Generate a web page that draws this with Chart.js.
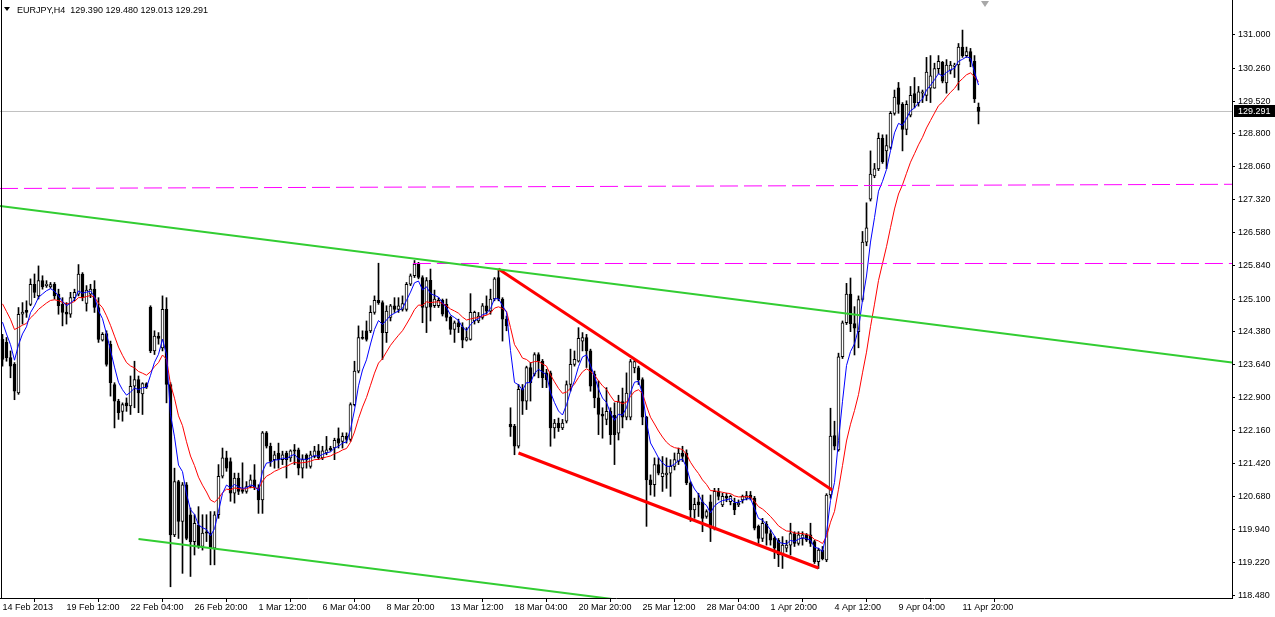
<!DOCTYPE html>
<html>
<head>
<meta charset="utf-8">
<title>EURJPY,H4</title>
<script src="https://cdn.jsdelivr.net/npm/chart.js@4.4.1/dist/chart.umd.min.js"></script>
<style>
  html, body { margin: 0; padding: 0; background: #fff; }
  #wrap { position: relative; width: 1275px; height: 617px; overflow: hidden; background: #fff; }
  #chart { position: absolute; left: 0; top: 0; }
  #hdr { position: absolute; left: 17px; top: 4px; font: 9px 'Liberation Sans', Arial, sans-serif; line-height: 12px; color: #000; white-space: pre; }
  .tri { position: absolute; left: 4px; top: 7px; width: 0; height: 0; border-left: 3px solid transparent; border-right: 3px solid transparent; border-top: 4px solid #000; }
  .shift { position: absolute; left: 981px; top: 1px; width: 0; height: 0; border-left: 4px solid transparent; border-right: 4px solid transparent; border-top: 6px solid #a8a8a8; }
</style>
</head>
<body>
<div id="wrap">
  <canvas id="chart" width="1275" height="617"></canvas>
  <div class="tri"></div>
  <div id="hdr"></div>
  <div class="shift"></div>
</div>
<script>
// ===== DATOS (H4, una vela cada 4 horas) =====
const symbolName = 'EURJPY,H4';

// etiqueta del eje de tiempo cada 16 velas
const timeLabels = ['14 Feb 2013', '19 Feb 12:00', '22 Feb 04:00', '26 Feb 20:00', '1 Mar 12:00', '6 Mar 04:00',
    '8 Mar 20:00', '13 Mar 12:00', '18 Mar 04:00', '20 Mar 20:00', '25 Mar 12:00', '28 Mar 04:00',
    '1 Apr 20:00', '4 Apr 12:00', '9 Apr 04:00', '11 Apr 20:00'];
const timeLabelStep = 16;

const priceTicks = [131.000, 130.260, 129.520, 128.800, 128.060, 127.320, 126.580, 125.840, 125.100,
    124.380, 123.640, 122.900, 122.160, 121.420, 120.680, 119.940, 119.220, 118.480];

const opens = [
    124.20, 124.13, 123.79, 123.64, 123.00, 124.76, 124.85, 124.98, 125.43, 125.17,
    125.51, 125.40, 125.37, 125.43, 125.21, 124.98, 124.81, 124.76, 125.13, 125.21,
    125.66, 125.00, 125.21, 125.32, 124.91, 124.18, 124.33, 124.09, 123.19, 122.82,
    122.59, 122.78, 122.71, 123.15, 123.30, 122.98, 123.21, 124.92, 123.94, 124.27,
    124.01, 124.87, 123.19, 119.83, 121.02, 120.13, 120.95, 120.28, 119.68, 120.05,
    119.57, 119.90, 119.87, 119.53, 120.28, 121.14, 121.55, 121.47, 120.76, 121.10,
    120.84, 120.80, 120.91, 121.06, 120.88, 120.61, 122.11, 121.81, 121.51, 121.66,
    121.51, 121.66, 121.55, 121.73, 121.73, 121.32, 121.61, 121.36, 121.58, 121.71,
    121.55, 121.66, 121.77, 121.77, 121.98, 121.92, 122.03, 121.96, 122.74, 123.49,
    124.24, 124.39, 124.39, 124.80, 125.07, 125.02, 124.35, 124.69, 124.95, 124.87,
    124.87, 124.87, 125.43, 125.62, 125.88, 125.58, 124.91, 125.52, 124.95, 124.95,
    125.07, 124.98, 124.69, 124.42, 124.57, 124.48, 124.18, 124.20, 124.61, 124.61,
    124.69, 124.95, 124.83, 125.10, 125.58, 125.10, 124.65, 122.30, 122.26, 121.81,
    123.08, 122.82, 123.57, 123.42, 123.86, 123.71, 123.45, 123.45, 122.22, 122.33,
    122.22, 122.37, 123.19, 123.64, 123.71, 124.16, 124.24, 123.94, 123.42, 122.89,
    122.53, 122.41, 122.59, 122.50, 122.10, 122.81, 122.46, 122.46, 123.56, 123.56,
    123.30, 122.46, 121.06, 120.95, 121.40, 121.13, 121.17, 121.21, 121.36, 121.47,
    121.66, 121.66, 120.99, 120.39, 120.57, 120.57, 120.24, 120.57, 119.98, 120.80,
    120.50, 120.69, 120.57, 120.54, 120.50, 120.61, 120.65, 120.72, 120.65, 120.02,
    119.75, 120.07, 119.86, 119.75, 119.71, 119.38, 119.53, 119.60, 119.86, 119.64,
    119.75, 119.83, 119.83, 119.68, 119.23, 119.49, 119.27, 120.72, 122.05, 121.73,
    123.81, 124.57, 125.21, 124.55, 124.37, 125.09, 126.37, 127.33, 127.85, 128.01,
    128.69, 128.41, 128.49, 129.25, 129.82, 129.45, 128.89, 129.21, 129.69, 129.49,
    129.70, 129.65, 129.81, 129.81, 130.25, 130.39, 129.93, 130.21, 130.30, 130.33,
    130.73, 130.54, 130.63, 130.41, 129.390
];
const highs = [
    124.31, 124.24, 123.94, 123.68, 124.91, 125.02, 125.06, 125.55, 125.66, 125.84,
    125.62, 125.51, 125.47, 125.47, 125.32, 125.13, 125.02, 125.25, 125.32, 125.87,
    125.69, 125.40, 125.43, 125.51, 125.13, 124.35, 124.39, 124.16, 123.23, 122.86,
    122.78, 122.89, 123.38, 123.71, 123.38, 123.23, 123.23, 124.95, 124.39, 124.35,
    125.17, 125.13, 123.23, 121.32, 121.05, 121.00, 121.00, 120.43, 120.28, 120.46,
    120.28, 120.28, 120.35, 120.35, 121.40, 121.77, 121.70, 121.55, 121.21, 121.21,
    121.44, 121.02, 121.17, 121.40, 120.95, 122.14, 122.14, 121.88, 121.70, 121.88,
    121.70, 121.70, 121.73, 121.85, 121.77, 121.62, 121.64, 121.70, 121.81, 121.85,
    121.81, 122.03, 121.81, 121.99, 122.22, 122.11, 122.11, 122.78, 123.71, 124.50,
    124.39, 124.61, 124.95, 125.17, 125.90, 125.06, 124.95, 124.98, 125.13, 125.13,
    125.17, 125.47, 125.66, 125.96, 125.92, 125.62, 125.58, 125.77, 125.30, 125.13,
    125.10, 125.10, 124.72, 124.61, 124.65, 124.57, 124.46, 125.22, 124.83, 124.80,
    125.00, 125.17, 125.32, 125.58, 125.77, 125.13, 124.72, 122.67, 122.30, 123.19,
    123.19, 123.60, 123.68, 123.90, 123.90, 123.75, 123.53, 123.49, 122.41, 122.44,
    122.41, 123.27, 123.98, 123.94, 124.46, 124.35, 124.31, 123.98, 123.49, 123.27,
    122.67, 123.12, 122.67, 122.78, 122.95, 123.11, 123.45, 123.75, 123.75, 123.60,
    123.34, 122.48, 121.17, 121.55, 121.55, 121.58, 121.55, 121.51, 121.66, 121.77,
    121.81, 121.73, 121.02, 120.65, 120.76, 120.72, 120.39, 120.72, 120.87, 120.87,
    120.76, 120.76, 120.72, 120.65, 120.61, 120.72, 120.80, 120.80, 120.69, 120.05,
    120.20, 120.13, 119.94, 119.79, 119.75, 119.79, 119.71, 120.09, 119.90, 119.90,
    119.90, 119.86, 120.09, 119.71, 119.53, 119.57, 120.75, 122.66, 122.37, 123.89,
    124.61, 125.45, 125.57, 124.93, 125.17, 126.61, 127.25, 128.41, 128.13, 128.81,
    128.77, 128.77, 129.29, 129.77, 129.94, 129.49, 129.53, 129.85, 130.05, 129.85,
    129.77, 130.50, 130.54, 130.37, 130.54, 130.41, 130.45, 130.41, 130.37, 130.81,
    131.11, 130.73, 130.70, 130.54, 129.480
];
const lows = [
    123.60, 123.71, 123.34, 122.85, 122.97, 124.54, 124.69, 124.95, 125.13, 125.10,
    125.32, 125.36, 125.34, 125.10, 124.76, 124.50, 124.54, 124.69, 125.06, 125.17,
    125.06, 124.83, 125.13, 124.80, 124.13, 124.16, 123.60, 122.93, 122.22, 122.41,
    122.37, 122.59, 122.52, 122.67, 122.56, 122.52, 123.10, 123.90, 123.86, 124.09,
    123.94, 122.78, 118.67, 119.79, 119.75, 118.97, 119.72, 118.90, 119.38, 119.53,
    119.49, 119.68, 119.16, 119.16, 120.20, 121.10, 121.25, 120.58, 120.54, 120.73,
    120.76, 120.76, 120.88, 120.84, 120.31, 120.31, 121.77, 121.36, 121.32, 121.32,
    121.40, 121.10, 121.47, 121.40, 121.17, 121.10, 121.32, 121.32, 121.55, 121.51,
    121.51, 121.62, 121.70, 121.51, 121.77, 121.77, 121.88, 121.92, 122.71, 123.45,
    124.20, 124.16, 124.35, 124.76, 124.98, 123.75, 124.13, 124.61, 124.80, 124.80,
    124.83, 124.83, 125.40, 125.58, 125.55, 124.57, 124.35, 124.61, 124.91, 124.91,
    124.72, 124.61, 124.31, 124.13, 124.35, 124.01, 124.16, 124.18, 124.54, 124.57,
    124.65, 124.76, 124.76, 125.06, 125.06, 124.16, 124.39, 122.03, 121.62, 121.77,
    122.52, 122.63, 122.82, 123.38, 123.34, 123.12, 123.12, 121.81, 121.99, 122.14,
    122.18, 122.33, 123.04, 123.60, 123.69, 123.94, 123.57, 123.04, 122.67, 122.07,
    121.99, 122.29, 121.85, 121.40, 121.95, 122.22, 122.40, 122.40, 123.45, 123.19,
    122.29, 120.02, 120.72, 120.69, 121.17, 120.80, 120.87, 120.69, 121.28, 121.40,
    121.47, 120.95, 120.13, 120.20, 120.24, 119.90, 120.20, 119.68, 119.94, 120.61,
    120.46, 120.57, 120.50, 120.28, 120.46, 120.54, 120.61, 120.61, 119.94, 119.64,
    119.68, 119.60, 119.60, 119.30, 119.12, 119.08, 119.45, 119.38, 119.57, 119.60,
    119.60, 119.68, 119.57, 119.19, 119.08, 119.27, 119.23, 120.65, 121.73, 121.70,
    123.77, 124.53, 124.37, 123.85, 124.01, 125.05, 126.29, 127.29, 127.81, 127.97,
    128.13, 128.01, 128.45, 129.21, 129.25, 128.41, 128.77, 129.17, 129.37, 129.41,
    129.49, 129.53, 129.49, 129.81, 130.13, 129.93, 129.70, 130.13, 130.05, 129.77,
    130.50, 130.50, 130.29, 129.49, 129.013
];
const closes = [
    123.75, 123.79, 123.60, 123.04, 124.76, 124.81, 124.80, 125.43, 125.25, 125.51,
    125.37, 125.43, 125.42, 125.17, 124.95, 124.80, 124.76, 125.13, 125.25, 125.66,
    125.13, 125.30, 125.32, 124.91, 124.20, 124.31, 123.64, 123.23, 122.82, 122.56,
    122.74, 122.71, 123.15, 123.30, 123.00, 123.21, 123.13, 123.94, 124.27, 124.22,
    124.87, 123.19, 119.83, 121.02, 120.13, 120.95, 119.75, 119.68, 120.09, 119.57,
    119.87, 119.87, 119.53, 120.28, 121.14, 121.55, 121.32, 120.76, 121.10, 120.80,
    120.80, 120.91, 121.06, 120.88, 120.61, 122.11, 121.81, 121.47, 121.62, 121.51,
    121.62, 121.51, 121.71, 121.70, 121.32, 121.51, 121.51, 121.62, 121.71, 121.55,
    121.71, 121.73, 121.73, 121.94, 121.88, 122.03, 121.96, 122.74, 123.49, 124.24,
    124.22, 124.20, 124.80, 125.07, 125.02, 124.35, 124.83, 124.95, 124.87, 124.95,
    125.00, 125.43, 125.62, 125.88, 125.58, 124.91, 125.51, 124.92, 125.10, 125.07,
    124.76, 124.69, 124.42, 124.57, 124.48, 124.18, 124.24, 124.80, 124.80, 124.72,
    124.95, 124.83, 125.10, 125.55, 125.10, 124.65, 124.50, 122.24, 121.81, 123.08,
    122.82, 123.57, 123.23, 123.86, 123.71, 123.34, 123.30, 122.22, 122.33, 122.22,
    122.33, 123.19, 123.64, 123.75, 124.22, 124.24, 123.94, 123.15, 122.89, 122.52,
    122.48, 122.59, 122.07, 122.07, 122.80, 122.46, 123.00, 123.70, 123.70, 123.30,
    122.46, 121.06, 120.95, 121.40, 121.21, 121.21, 121.21, 121.36, 121.51, 121.66,
    121.58, 120.99, 120.39, 120.51, 120.50, 120.20, 120.35, 119.98, 120.80, 120.69,
    120.69, 120.65, 120.69, 120.39, 120.54, 120.69, 120.71, 120.65, 119.98, 119.75,
    120.09, 119.86, 119.71, 119.53, 119.38, 119.60, 119.60, 119.86, 119.64, 119.83,
    119.83, 119.71, 119.64, 119.23, 119.49, 119.30, 120.72, 122.04, 121.81, 123.81,
    124.57, 125.21, 124.55, 124.45, 125.09, 126.37, 126.69, 127.89, 128.01, 128.69,
    128.17, 128.53, 129.25, 129.61, 129.45, 128.89, 129.45, 129.65, 129.49, 129.73,
    129.73, 130.17, 130.09, 130.25, 130.41, 129.97, 130.33, 130.33, 130.33, 130.73,
    130.54, 130.63, 130.41, 129.57, 129.291
];

// medias móviles del gráfico (EMA 5 azul, EMA 13 roja); valor previo a la primera vela
const maFastPeriod = 5;
const maSlowPeriod = 13;
const maFastSeed = 125.0;
const maSlowSeed = 125.2;

// líneas dibujadas a mano: [índice de vela, precio]
const greenUpper = [[-0.625, 127.179], [307.375, 123.682]];
const greenLower = [[34, 119.737], [154.4, 118.374]];
const redUpper = [[124, 125.771], [207.4, 120.832]];
const redLower = [[129, 121.659], [204, 119.089]];
const magentaUpper = [[-0.625, 127.570], [307.375, 127.664]];
const magentaLower = [[102.6, 125.894], [307.375, 125.894]];

// ===== ESCALAS =====
const X_MIN = -0.625, X_MAX = 307.375;
const Y_MIN = 118.419, Y_MAX = 131.782;
const FONT = "'Liberation Sans', Arial, sans-serif";

function ema(values, period, seed) {
    const k = 2 / (period + 1);
    let prev = seed;
    return values.map(v => (prev = prev + k * (v - prev)));
}

const last = closes.length - 1;
document.getElementById('hdr').textContent =
    `${symbolName}  ${opens[last].toFixed(3)} ${highs[last].toFixed(3)} ${lows[last].toFixed(3)} ${closes[last].toFixed(3)}`;

const wickData = closes.map((_, i) => ({ x: i, y: [lows[i], highs[i]] }));
const bodyData = closes.map((_, i) => ({ x: i, y: [opens[i], closes[i]] }));
const bodyFill = closes.map((c, i) => c >= opens[i] ? '#ffffff' : '#000000');
const fastData = ema(closes, maFastPeriod, maFastSeed).map((v, i) => ({ x: i, y: v }));
const slowData = ema(closes, maSlowPeriod, maSlowSeed).map((v, i) => ({ x: i, y: v }));

function linea(points, color, width, dash, order) {
    return {
        type: 'line',
        data: points.map(p => ({ x: p[0], y: p[1] })),
        borderColor: color,
        borderWidth: width,
        borderDash: dash || [],
        pointRadius: 0,
        fill: false,
        tension: 0,
        order: order
    };
}

// marco izquierdo + etiqueta del precio actual
const marcoPlugin = {
    id: 'marco',
    afterDraw(chart) {
        const { ctx, chartArea, scales } = chart;
        ctx.save();
        ctx.strokeStyle = '#000';
        ctx.lineWidth = 1;
        ctx.beginPath();
        ctx.moveTo(chartArea.left + 1.5, chartArea.top);
        ctx.lineTo(chartArea.left + 1.5, chartArea.bottom);
        ctx.stroke();

        const y = Math.round(scales.y.getPixelForValue(closes[last]));
        ctx.fillStyle = '#000';
        ctx.fillRect(chartArea.right + 2, y - 6, 41, 12);
        ctx.fillStyle = '#fff';
        ctx.font = '9px ' + FONT;
        ctx.textBaseline = 'middle';
        ctx.textAlign = 'left';
        ctx.fillText(closes[last].toFixed(3), chartArea.right + 6, y + 0.5);
        ctx.restore();
    }
};

new Chart(document.getElementById('chart'), {
    type: 'bar',
    data: {
        datasets: [
            linea(greenUpper, '#32cd32', 2, null, 0),
            linea(greenLower, '#32cd32', 2, null, 0),
            linea(redUpper, '#ff0000', 3, null, 0),
            linea(redLower, '#ff0000', 3, null, 0),
            linea(magentaUpper, '#ff00ff', 1, [18, 6], 0),
            linea(magentaLower, '#ff00ff', 1, [18, 6], 0),
            {
                type: 'line', data: fastData, borderColor: '#0000ff', borderWidth: 1,
                pointRadius: 0, fill: false, tension: 0, order: 1
            },
            {
                type: 'line', data: slowData, borderColor: '#ff0000', borderWidth: 1,
                pointRadius: 0, fill: false, tension: 0, order: 1
            },
            {
                type: 'bar', data: bodyData, backgroundColor: bodyFill, borderColor: '#000000',
                borderWidth: 1, borderSkipped: false, barThickness: 3, grouped: false,
                minBarLength: 1, order: 2
            },
            {
                type: 'bar', data: wickData, backgroundColor: '#000000', borderWidth: 0,
                barThickness: 1, grouped: false, order: 3
            },
            linea([[X_MIN, closes[last]], [X_MAX, closes[last]]], '#c0c0c0', 1, null, 4)
        ]
    },
    options: {
        responsive: false,
        animation: false,
        devicePixelRatio: 1,
        events: [],
        layout: { padding: 0 },
        plugins: { legend: { display: false }, tooltip: { enabled: false } },
        scales: {
            x: {
                type: 'linear',
                min: X_MIN,
                max: X_MAX,
                bounds: 'data',
                offset: false,
                grid: { drawOnChartArea: false, drawTicks: true, tickLength: 4, color: '#000' },
                border: { display: true, color: '#000', width: 1 },
                afterBuildTicks: axis => { axis.ticks = timeLabels.map((_, k) => ({ value: k * timeLabelStep })); },
                ticks: {
                    autoSkip: false, maxRotation: 0, minRotation: 0, align: 'start', padding: 0,
                    color: '#000', font: { family: FONT, size: 9 },
                    callback: v => timeLabels[Math.round(v / timeLabelStep)]
                },
                afterFit: axis => { axis.height = 19; axis.paddingLeft = 0; axis.paddingRight = 0; }
            },
            y: {
                type: 'linear',
                position: 'right',
                min: Y_MIN,
                max: Y_MAX,
                bounds: 'data',
                grid: { drawOnChartArea: false, drawTicks: true, tickLength: 3, color: '#000' },
                border: { display: true, color: '#000', width: 1 },
                afterBuildTicks: axis => { axis.ticks = priceTicks.map(v => ({ value: v })); },
                ticks: {
                    padding: 3, color: '#000', font: { family: FONT, size: 9 },
                    callback: v => Number(v).toFixed(3)
                },
                afterFit: axis => { axis.width = 43; axis.paddingTop = 0; axis.paddingBottom = 0; }
            }
        }
    },
    plugins: [marcoPlugin]
});
</script>
</body>
</html>
